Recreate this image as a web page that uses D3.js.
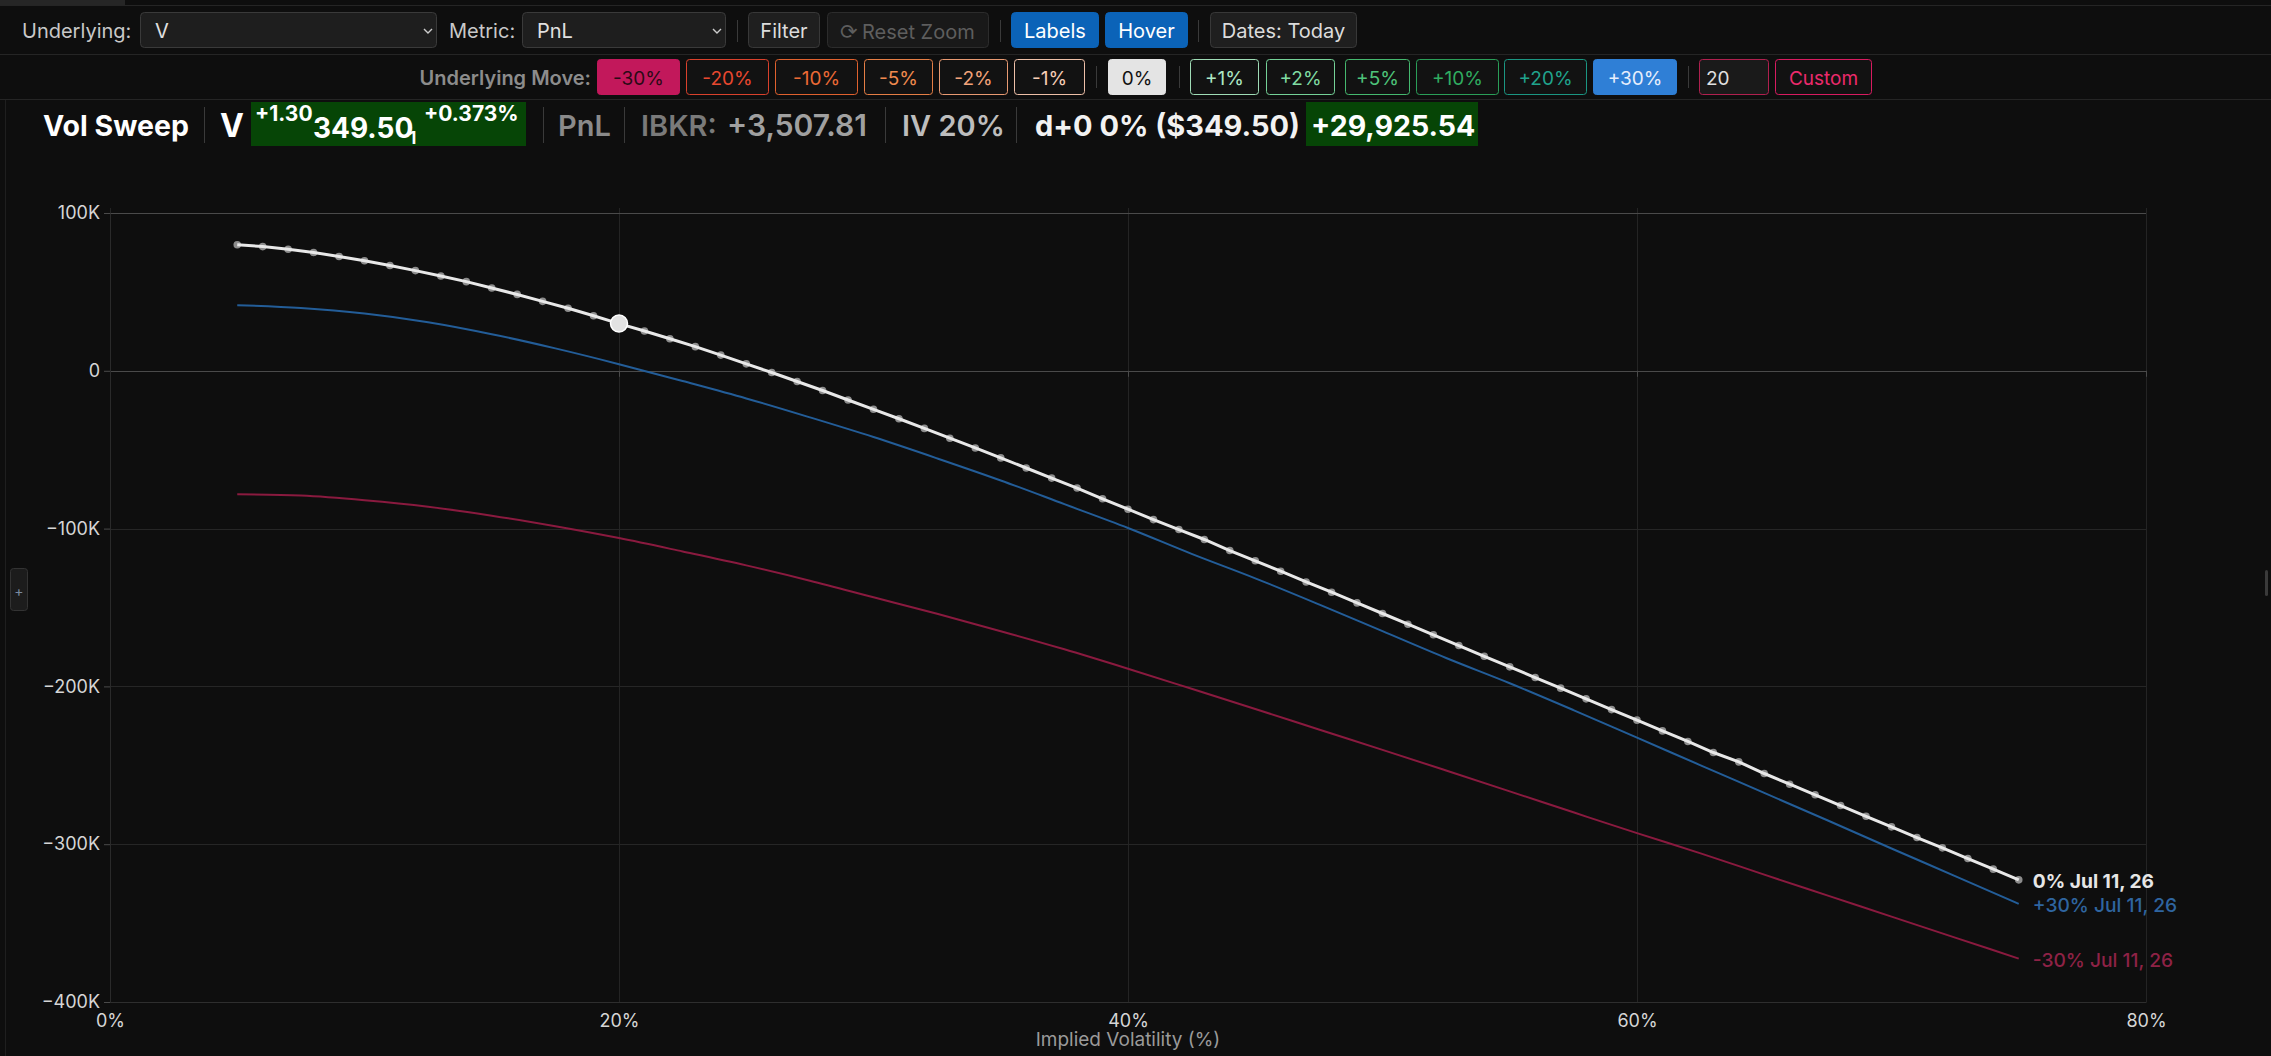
<!DOCTYPE html>
<html><head><meta charset="utf-8">
<script src="https://cdn.jsdelivr.net/npm/d3@7"></script>
<style>
html,body{margin:0;padding:0;background:#0e0e0e;overflow:hidden}
svg{display:block;font-family:Inter,"Noto Sans",sans-serif}
</style></head><body>
<script>
// ---------------- DATA ----------------
const volGrid = [5,6,7,8,9,10,11,12,13,14,15,16,17,18,19,20,21,22,23,24,25,26,27,28,29,30,31,32,33,34,35,36,37,38,39,40,41,42,43,44,45,46,47,48,49,50,51,52,53,54,55,56,57,58,59,60,61,62,63,64,65,66,67,68,69,70,71,72,73,74,75];
const pnlZero = [79900,78700,77000,75000,72400,69700,66700,63500,60100,56500,52500,48400,44000,39600,34900,29925.54,25200,20300,15300,9960,4400,-1100,-6800,-12500,-18500,-24400,-30400,-36500,-42700,-48900,-55200,-61600,-68000,-74300,-81100,-87700,-94300,-100600,-106900,-113900,-120400,-127000,-133800,-140300,-147100,-153800,-160600,-167300,-174100,-180900,-187600,-194400,-201100,-207900,-214700,-221400,-228200,-234900,-241900,-247800,-255200,-262000,-268700,-275500,-282300,-289000,-295800,-302300,-309100,-315800,-322600];
const moveVols = [5,7.5,10,12.5,15,17.5,20,22.5,25,27.5,30,32.5,35,37.5,40,42.5,45,47.5,50,52.5,55,57.5,60,62.5,65,67.5,70,72.5,75];
const pnlPlus30 = [41600,39800,36300,30800,23200,14200,4200,-6500,-17500,-29500,-42000,-55500,-69500,-84500,-99600,-116000,-131500,-148000,-165000,-182000,-198000,-215000,-232500,-250000,-267500,-285000,-302700,-320200,-337800];
const pnlMinus30 = [-78200,-79100,-82000,-86100,-91800,-98500,-106000,-114500,-123300,-133000,-143500,-154000,-165000,-176500,-188800,-201500,-214300,-227300,-240200,-253300,-266500,-279800,-293000,-305800,-319300,-332600,-345900,-359200,-372500];
const seriesLabels = ["0% Jul 11, 26","+30% Jul 11, 26","-30% Jul 11, 26"];
const xTicks = [0,20,40,60,80];
const yTicks = [100000,0,-100000,-200000,-300000,-400000];
const hoverVol = 20;
const moveLabels = ["-30%","-20%","-10%","-5%","-2%","-1%","0%","+1%","+2%","+5%","+10%","+20%","+30%"];

// ---------------- SETUP ----------------
const W = 2271, H = 1056;
const svg = d3.select("body").append("svg").attr("width", W).attr("height", H);
svg.append("rect").attr("width", W).attr("height", H).attr("fill", "#0e0e0e");

// ---------- toolbar ----------
const tb = svg.append("g");
tb.append("rect").attr("x",0).attr("y",0).attr("width",125).attr("height",5).attr("fill","#262626");
[5,54,99].forEach(y => tb.append("line").attr("x1",0).attr("x2",W).attr("y1",y+0.5).attr("y2",y+0.5).attr("stroke","#252525"));
tb.append("line").attr("x1",5.5).attr("x2",5.5).attr("y1",100).attr("y2",H).attr("stroke","#1f1f1f");

function box(g, x0, x1, y0, y1, opt) {
  g.append("rect").attr("x",x0+0.5).attr("y",y0+0.5).attr("width",x1-x0-1).attr("height",y1-y0-1)
    .attr("rx", opt.rx||4).attr("fill", opt.fill||"none").attr("stroke", opt.stroke||"none").attr("stroke-width",1);
  if (opt.text !== undefined) {
    g.append("text").attr("x", opt.anchor==="start" ? opt.tx : (x0+x1)/2).attr("y",(y0+y1)/2+1)
      .attr("text-anchor", opt.anchor||"middle").attr("dominant-baseline","central")
      .attr("fill", opt.color||"#ddd").attr("font-size", opt.size||20).attr("font-weight", opt.weight||400)
      .text(opt.text);
  }
}
function sep(g, x, y0, y1) {
  g.append("line").attr("x1",x+0.5).attr("x2",x+0.5).attr("y1",y0).attr("y2",y1).attr("stroke","#3a3a3a");
}
function label(g, x, y, t, opt) {
  return g.append("text").attr("x",x).attr("y",y).attr("dominant-baseline","central")
    .attr("text-anchor",opt.anchor||"start").attr("fill",opt.color||"#ccc")
    .attr("font-size",opt.size||20).attr("font-weight",opt.weight||400).text(t);
}
function chevron(g, x, y) {
  g.append("path").attr("d",`M${x-4},${y-2}L${x},${y+2}L${x+4},${y-2}`).attr("fill","none").attr("stroke","#ccc").attr("stroke-width",1.4);
}
// row 1
const r1y0 = 12, r1y1 = 48, r1c = 31;
label(tb, 22, r1c, "Underlying:", {color:"#c8c8c8", size:20});
box(tb, 140, 437, r1y0, r1y1, {fill:"#1e1e1e", stroke:"#3a3a3a", text:"V", anchor:"start", tx:155, color:"#e0e0e0", size:20});
chevron(tb, 428, r1c);
label(tb, 449, r1c, "Metric:", {color:"#c8c8c8", size:20});
box(tb, 522, 726, r1y0, r1y1, {fill:"#1e1e1e", stroke:"#3a3a3a", text:"PnL", anchor:"start", tx:537, color:"#e0e0e0", size:20});
chevron(tb, 717, r1c);
sep(tb, 737, 20, 42);
box(tb, 748, 820, r1y0, r1y1, {fill:"#1f1f1f", stroke:"#383838", text:"Filter", color:"#dcdcdc", size:20});
box(tb, 827, 989, r1y0, r1y1, {fill:"#191919", stroke:"#2c2c2c"});
tb.append("text").attr("x",840).attr("y",r1c+1).attr("dominant-baseline","central").attr("font-family","DejaVu Sans").attr("font-size",21).attr("fill","#5e5e5e").text("⟳");
label(tb, 862, r1c+1, "Reset Zoom", {color:"#5e5e5e", size:20});
sep(tb, 1000, 20, 42);
box(tb, 1011, 1099, r1y0, r1y1, {fill:"#0b63b8", stroke:"#0b63b8", text:"Labels", color:"#ffffff", size:20});
box(tb, 1105, 1188, r1y0, r1y1, {fill:"#0b63b8", stroke:"#0b63b8", text:"Hover", color:"#ffffff", size:20});
sep(tb, 1198, 20, 42);
box(tb, 1210, 1357, r1y0, r1y1, {fill:"#1f1f1f", stroke:"#383838", text:"Dates: Today", color:"#dcdcdc", size:20});

// row 2
const r2y0 = 59, r2y1 = 95;
label(tb, 591, 78, "Underlying Move:", {anchor:"end", color:"#8c8c8c", size:20, weight:600});
const moveBoxes = [[597,680],[686,769],[775,858],[864,933],[939,1008],[1014,1085],[1108,1166],[1190,1259],[1266,1335],[1345,1410],[1416,1499],[1504,1587],[1593,1677]];
const moveStyles = [
  {fill:"#c2185b", stroke:"#c2185b", color:"#2a0a16"},
  {fill:"#121212", stroke:"#d9412c", color:"#e8482f"},
  {fill:"#121212", stroke:"#e0612e", color:"#ec6a35"},
  {fill:"#121212", stroke:"#e57e45", color:"#f08a4e"},
  {fill:"#121212", stroke:"#e89a72", color:"#f2a37a"},
  {fill:"#121212", stroke:"#eec0a8", color:"#f6cdb6"},
  {fill:"#e4e4e4", stroke:"#e4e4e4", color:"#111111"},
  {fill:"#121212", stroke:"#9fdcb6", color:"#aee8c4"},
  {fill:"#121212", stroke:"#74d197", color:"#80dca2"},
  {fill:"#121212", stroke:"#45b96f", color:"#4ec47a"},
  {fill:"#121212", stroke:"#2a9e58", color:"#30ac60"},
  {fill:"#121212", stroke:"#1b9682", color:"#20a38d"},
  {fill:"#2f7fd6", stroke:"#2f7fd6", color:"#e6eefc"}
];
moveLabels.forEach((t,i) => box(tb, moveBoxes[i][0], moveBoxes[i][1], r2y0, r2y1, Object.assign({rx:3, text:t, size:19}, moveStyles[i])));
sep(tb, 1096, 66, 88); sep(tb, 1179, 66, 88); sep(tb, 1688, 66, 88);
box(tb, 1699, 1769, r2y0, r2y1, {rx:3, fill:"#1a1a1a", stroke:"#b0204f", text:"20", anchor:"start", tx:1706, color:"#e0e0e0", size:19});
box(tb, 1775, 1872, r2y0, r2y1, {rx:3, fill:"#121212", stroke:"#d81b60", text:"Custom", color:"#ec2a6c", size:19});

// ---------- title row ----------
const tr = svg.append("g");
const tb0 = 136;
function ttext(x, y, t, size, weight, color) {
  return tr.append("text").attr("x",x).attr("y",y).attr("font-size",size).attr("font-weight",weight).attr("fill",color).text(t);
}
ttext(43, tb0, "Vol Sweep", 28.5, 700, "#ffffff");
sep(tr, 204, 107, 143);
ttext(220, tb0+1, "V", 32, 700, "#ffffff");
tr.append("rect").attr("x",251).attr("y",102).attr("width",275).attr("height",44).attr("fill","#064506");
ttext(255, 121, "+1.30", 21, 700, "#ffffff");
ttext(313, 138, "349.50", 28, 700, "#ffffff");
ttext(409, 144, "1", 17, 700, "#ffffff");
ttext(424, 121, "+0.373%", 21, 700, "#ffffff");
sep(tr, 543, 107, 143);
ttext(558, tb0, "PnL", 29, 600, "#8a8a8a");
sep(tr, 624, 107, 143);
ttext(641, tb0, "IBKR:", 29, 600, "#7a7a7a");
ttext(727, tb0, "+3,507.81", 30, 600, "#a0a0a0");
sep(tr, 885, 107, 143);
ttext(902, tb0, "IV 20%", 29, 600, "#bdbdbd");
sep(tr, 1016, 107, 143);
ttext(1035, tb0, "d+0 0% ($349.50)", 29, 700, "#f2f2f2");
tr.append("rect").attr("x",1306).attr("y",102).attr("width",172).attr("height",44).attr("fill","#064506");
ttext(1311, tb0, "+29,925.54", 28.5, 700, "#ffffff");

// ---------- chart ----------
const x = d3.scaleLinear().domain([0,80]).range([110,2146]);
const y = d3.scaleLinear().domain([-400000,100000]).range([1002,213]);
const g = svg.append("g");

// gridlines
g.append("g").selectAll("line").data(xTicks).join("line")
  .attr("x1",d=>Math.round(x(d))+0.5).attr("x2",d=>Math.round(x(d))+0.5)
  .attr("y1",y(100000)-5).attr("y2",y(-400000)).attr("stroke","#242424");
g.append("g").selectAll("line").data(yTicks).join("line")
  .attr("x1",x(0)).attr("x2",x(80))
  .attr("y1",d=>Math.round(y(d))+0.5).attr("y2",d=>Math.round(y(d))+0.5)
  .attr("stroke",d=> (d===0||d===100000) ? "#4a4a4a" : "#262626");
g.append("g").selectAll("line").data(xTicks).join("line")
  .attr("x1",d=>Math.round(x(d))+0.5).attr("x2",d=>Math.round(x(d))+0.5)
  .attr("y1",y(0)).attr("y2",y(0)+6).attr("stroke","#4a4a4a");

// y axis
const yAxis = d3.axisLeft(y).tickValues(yTicks).tickSize(6).tickPadding(4)
  .tickFormat(d => d===0 ? "0" : d3.format("d")(d/1000)+"K");
const ya = g.append("g").attr("transform",`translate(${x(0)},0)`).call(yAxis);
ya.select(".domain").attr("stroke","#2a2a2a");
ya.selectAll(".tick line").attr("stroke","#4a4a4a");
ya.selectAll(".tick text").attr("fill","#d6d6d6").attr("font-size",18).attr("font-family","Inter");

// x axis
const xAxis = d3.axisBottom(x).tickValues(xTicks).tickSize(0).tickPadding(12).tickFormat(d => d+"%");
const xa = g.append("g").attr("transform",`translate(0,${y(-400000)})`).call(xAxis);
xa.select(".domain").attr("stroke","#2e2e2e");
xa.selectAll(".tick text").attr("fill","#d6d6d6").attr("font-size",18).attr("font-family","Inter");
g.append("text").attr("x",(x(0)+x(80))/2).attr("y",1046).attr("text-anchor","middle")
  .attr("fill","#9a9a9a").attr("font-size",19).text("Implied Volatility (%)");

// lines
const lineZero = d3.line().x((d,i)=>x(volGrid[i])).y(d=>y(d));
const lineMove = d3.line().x((d,i)=>x(moveVols[i])).y(d=>y(d)).curve(d3.curveMonotoneX);
g.append("path").attr("d",lineMove(pnlMinus30)).attr("fill","none").attr("stroke","#8a1a3f").attr("stroke-width",2);
g.append("path").attr("d",lineMove(pnlPlus30)).attr("fill","none").attr("stroke","#235d98").attr("stroke-width",2);
g.append("g").selectAll("circle").data(pnlZero).join("circle")
  .attr("cx",(d,i)=>x(volGrid[i])).attr("cy",d=>y(d)).attr("r",3.8).attr("fill","#8c8c8c");
g.append("path").attr("d",lineZero(pnlZero)).attr("fill","none").attr("stroke","#e8e8e8").attr("stroke-width",3);

// hover point
const hi = volGrid.indexOf(hoverVol);
g.append("circle").attr("cx",x(hoverVol)).attr("cy",y(pnlZero[hi])).attr("r",8.5)
  .attr("fill","#e2e2e2").attr("stroke","#ffffff").attr("stroke-width",1.5);

// end labels
const ends = [
  {v:volGrid[volGrid.length-1], p:pnlZero[pnlZero.length-1], c:"#e6e6e6", w:700},
  {v:moveVols[moveVols.length-1], p:pnlPlus30[pnlPlus30.length-1], c:"#2f65a0", w:500},
  {v:moveVols[moveVols.length-1], p:pnlMinus30[pnlMinus30.length-1], c:"#8e2246", w:500}
];
ends.forEach((e,i) => {
  g.append("text").attr("x",x(e.v)+14).attr("y",y(e.p)+1).attr("dominant-baseline","central")
    .attr("fill",e.c).attr("font-size",19.2).attr("font-weight",e.w).text(seriesLabels[i]);
});

// side controls
box(svg, 10, 28, 568, 611, {rx:3, fill:"#1c1c1c", stroke:"#333"});
svg.append("text").attr("x",19).attr("y",590).attr("text-anchor","middle").attr("dominant-baseline","central")
  .attr("fill","#7a8aa0").attr("font-size",14).text("+");
svg.append("rect").attr("x",2265).attr("y",570).attr("width",3).attr("height",26).attr("rx",1.5).attr("fill","#3a3a3a");
</script>
</body></html>
